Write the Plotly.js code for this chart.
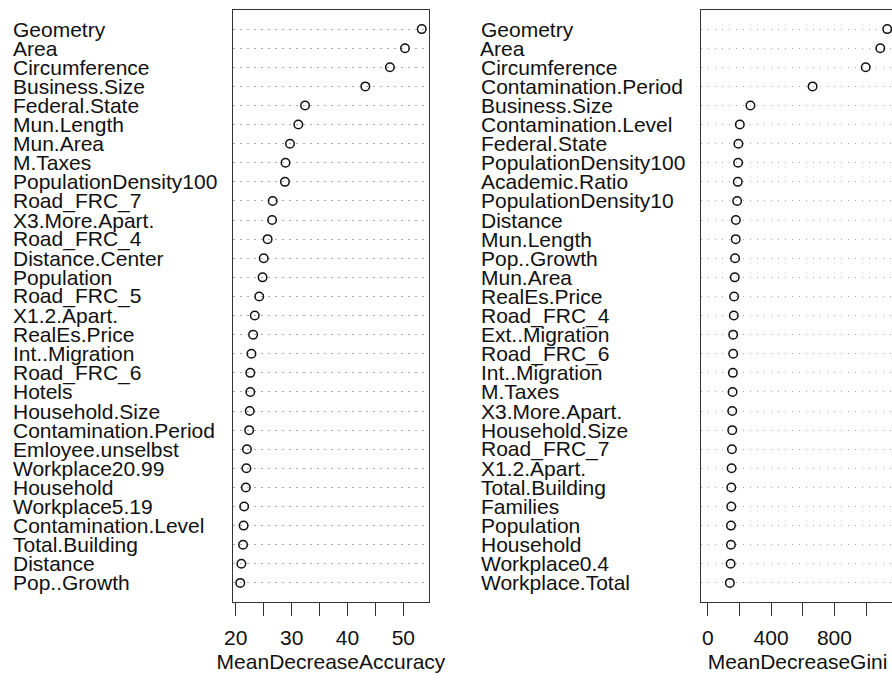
<!DOCTYPE html>
<html>
<head>
<meta charset="utf-8">
<script src="https://cdn.plot.ly/plotly-3.0.1.min.js"></script>
<style>
html, body { margin: 0; padding: 0; overflow: hidden; background: #fff; }
#chart { width: 900px; height: 680px; }
</style>
</head>
<body>
<div id="chart"></div>
<script>
// Left panel: MeanDecreaseAccuracy (top to bottom)
const accNames = ["Geometry","Area","Circumference","Business.Size","Federal.State","Mun.Length","Mun.Area","M.Taxes","PopulationDensity100","Road_FRC_7","X3.More.Apart.","Road_FRC_4","Distance.Center","Population","Road_FRC_5","X1.2.Apart.","RealEs.Price","Int..Migration","Road_FRC_6","Hotels","Household.Size","Contamination.Period","Emloyee.unselbst","Workplace20.99","Household","Workplace5.19","Contamination.Level","Total.Building","Distance","Pop..Growth"];
const accValues = [53.3,50.3,47.6,43.2,32.4,31.2,29.7,28.9,28.8,26.6,26.5,25.7,25.0,24.8,24.2,23.4,23.1,22.8,22.6,22.6,22.5,22.4,22.0,21.9,21.8,21.5,21.4,21.3,21.0,20.8];
const accTickVals = [20,25,30,35,40,45,50];
const accTickText = ["20","","30","","40","","50"];

// Right panel: MeanDecreaseGini (top to bottom)
const giniNames = ["Geometry","Area","Circumference","Contamination.Period","Business.Size","Contamination.Level","Federal.State","PopulationDensity100","Academic.Ratio","PopulationDensity10","Distance","Mun.Length","Pop..Growth","Mun.Area","RealEs.Price","Road_FRC_4","Ext..Migration","Road_FRC_6","Int..Migration","M.Taxes","X3.More.Apart.","Household.Size","Road_FRC_7","X1.2.Apart.","Total.Building","Families","Population","Household","Workplace0.4","Workplace.Total"];
const giniValues = [1134,1090,998,662,269,202,193,191,189,185,177,176,172,170,166,164,160,160,158,156,154,154,152,150,148,148,146,146,144,139];
const giniTickVals = [0,200,400,600,800,1000];
const giniTickText = ["0","","400","","800",""];

const W = 900;
const FONT = "Liberation Sans, Arial, Helvetica, sans-serif";
const n = accNames.length;
const rowPos = arr => arr.map((_, i) => arr.length - i);

function rRange(vals, zeroBased) {
  let lo = Math.min(...vals), hi = Math.max(...vals);
  if (zeroBased) lo = 0;
  const pad = 0.04 * (hi - lo);
  return [lo - pad, hi + pad];
}

const markerStyle = { symbol: "circle-open", size: 8.5, color: "#111", line: { width: 1.5, color: "#111" } };

const traces = [
  { type: "scatter", mode: "markers", x: accValues, y: rowPos(accValues), xaxis: "x", yaxis: "y", marker: markerStyle, hoverinfo: "x", showlegend: false },
  { type: "scatter", mode: "markers", x: giniValues, y: rowPos(giniValues), xaxis: "x2", yaxis: "y2", marker: markerStyle, hoverinfo: "x", showlegend: false }
];

const annotations = [];
accNames.forEach((name, i) => annotations.push({
  text: name, xref: "paper", yref: "y", x: 10.5 / W, y: n - i, xanchor: "left", yanchor: "middle",
  showarrow: false, font: { family: FONT, size: 21, color: "#111" }
}));
giniNames.forEach((name, i) => annotations.push({
  text: name, xref: "paper", yref: "y2", x: 478.5 / W, y: giniNames.length - i, xanchor: "left", yanchor: "middle",
  showarrow: false, font: { family: FONT, size: 21, color: "#111" }
}));

const yCommon = {
  range: [0, n + 1], showticklabels: false, ticks: "", zeroline: false,
  showgrid: true, gridcolor: "#aaa", griddash: "1.5px,5.5px", gridwidth: 1,
  tickvals: rowPos(accValues),
  showline: true, mirror: true, linecolor: "#333", linewidth: 1
};
const xCommon = {
  showgrid: false, zeroline: false, showline: true, mirror: true, linecolor: "#333", linewidth: 1,
  ticks: "outside", ticklen: 13, tickcolor: "#333", tickwidth: 1,
  tickfont: { family: FONT, size: 21, color: "#111" },
  ticklabelstandoff: 4
};

const layout = {
  width: W, height: 680,
  margin: { l: 0, r: 0, t: 10, b: 78 },
  paper_bgcolor: "#fff", plot_bgcolor: "#fff",
  font: { family: FONT, size: 21, color: "#111" },
  xaxis: Object.assign({}, xCommon, {
    domain: [233 / W, 429 / W], anchor: "y", range: rRange(accValues, false),
    tickmode: "array", tickvals: accTickVals, ticktext: accTickText,
    title: { text: "MeanDecreaseAccuracy", font: { family: FONT, size: 21, color: "#111" }, standoff: 6 }
  }),
  yaxis: Object.assign({}, yCommon, { domain: [0, 1], anchor: "x" }),
  xaxis2: Object.assign({}, xCommon, {
    domain: [700.7 / W, 894.4 / W], anchor: "y2", range: rRange(giniValues, true),
    tickmode: "array", tickvals: giniTickVals, ticktext: giniTickText,
    title: { text: "MeanDecreaseGini", font: { family: FONT, size: 21, color: "#111" }, standoff: 6 }
  }),
  yaxis2: Object.assign({}, yCommon, { domain: [0, 1], anchor: "x2", tickvals: rowPos(giniValues) }),
  annotations: annotations
};

Plotly.newPlot("chart", traces, layout, { displayModeBar: false, staticPlot: true });
</script>
</body>
</html>
